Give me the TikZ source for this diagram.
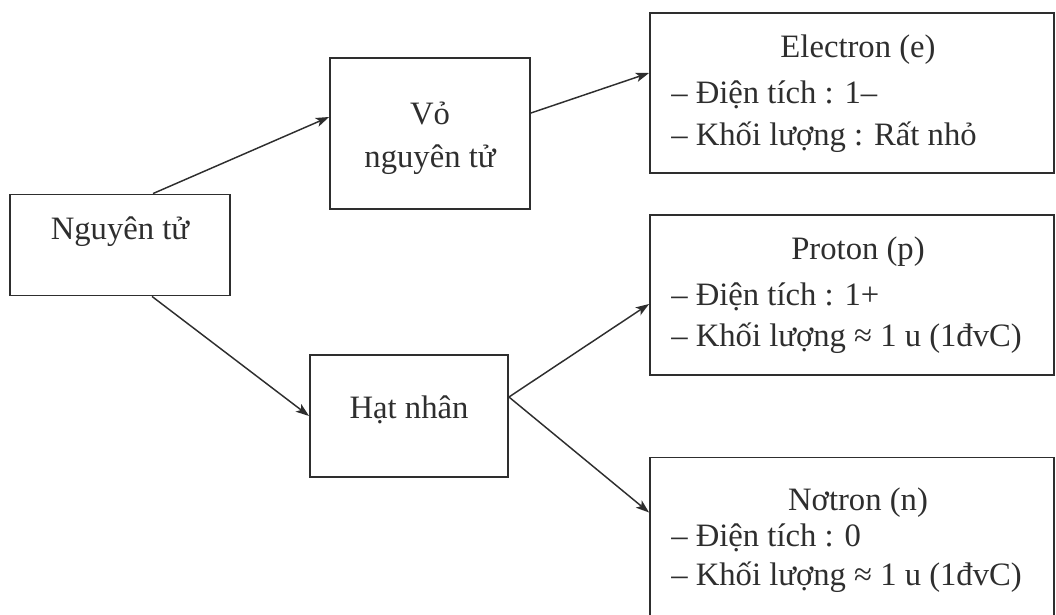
\documentclass[tikz,border=0pt]{standalone}
\usepackage{fontspec}
\setmainfont{Liberation Serif}
\usetikzlibrary{arrows.meta,calc}
\definecolor{ink}{rgb}{0.18,0.18,0.18}

\tikzset{
  box/.style={draw=ink, line width=1.4pt, rectangle, inner sep=0pt},
  txt/.style={text=ink, inner sep=0.75pt, font=\fontsize{24.5}{32}\selectfont},
  link/.style={draw=ink, line width=1.1pt, -{Stealth[length=10pt,width=7pt,inset=2.5pt]}}
}

\begin{document}
\begin{tikzpicture}[x=0.75pt,y=0.75pt,yscale=-1]
\useasboundingbox (0,0) rectangle (1056,614);

%Shape: Rectangle [atom]
\node [box, minimum width=165pt, minimum height=75.75pt] (atom) at (120,245) {};
%Shape: Rectangle [shell]
\node [box, minimum width=150pt, minimum height=113.25pt] (shell) at (430,133.5) {};
%Shape: Rectangle [nucleus]
\node [box, minimum width=148.5pt, minimum height=91.5pt] (nucleus) at (409,416) {};
%Shape: Rectangle [electron]
\node [box, minimum width=303pt, minimum height=120pt] (elec) at (852,93) {};
%Shape: Rectangle [proton]
\node [box, minimum width=303pt, minimum height=120pt] (prot) at (852,295) {};
%Shape: Rectangle [neutron]
\node [box, minimum width=303pt, minimum height=120pt] (neut) at (852,537.5) {};

% Text Node
\node [txt] (atomtxt) at (120,232) {Nguyên tử};
% Text Node
\node [txt, align=center] (shelltxt) at (430,138) {Vỏ\\nguyên tử};
% Text Node
\node [txt] (nucleustxt) at (409,410) {Hạt nhân};

% Text Node
\node [txt] (elechead) at (858,50) {Electron (e)};
\node [txt, anchor=west] (elecq) at (670,95) {– Điện tích : 1–};
\node [txt, anchor=west] (elecm) at (670,137) {– Khối lượng : Rất nhỏ};
% Text Node
\node [txt] (prothead) at (858,252) {Proton (p)};
\node [txt, anchor=west] (protq) at (670,297) {– Điện tích : 1+};
\node [txt, anchor=west] (protm) at (670,338) {– Khối lượng ≈ 1 u (1đvC)};
% Text Node
\node [txt] (neuthead) at (858,503) {Nơtron (n)};
\node [txt, anchor=west] (neutq) at (670,538) {– Điện tích : 0};
\node [txt, anchor=west] (neutm) at (670,577) {– Khối lượng ≈ 1 u (1đvC)};

%Straight Lines
\draw [link] ($(atom.north)+(33,0)$) -- ($(shell.west)+(0,-16.5)$);
\draw [link] ($(atom.south)+(32,0)$) -- (nucleus.west);
\draw [link] ($(shell.east)+(0,-20.5)$) -- ($(elec.west)+(0,-20)$);
\draw [link] ($(nucleus.east)+(0,-19)$) -- ($(prot.west)+(0,9)$);
\draw [link] ($(nucleus.east)+(0,-19)$) -- ($(neut.west)+(0,-25)$);

\end{tikzpicture}
\end{document}
